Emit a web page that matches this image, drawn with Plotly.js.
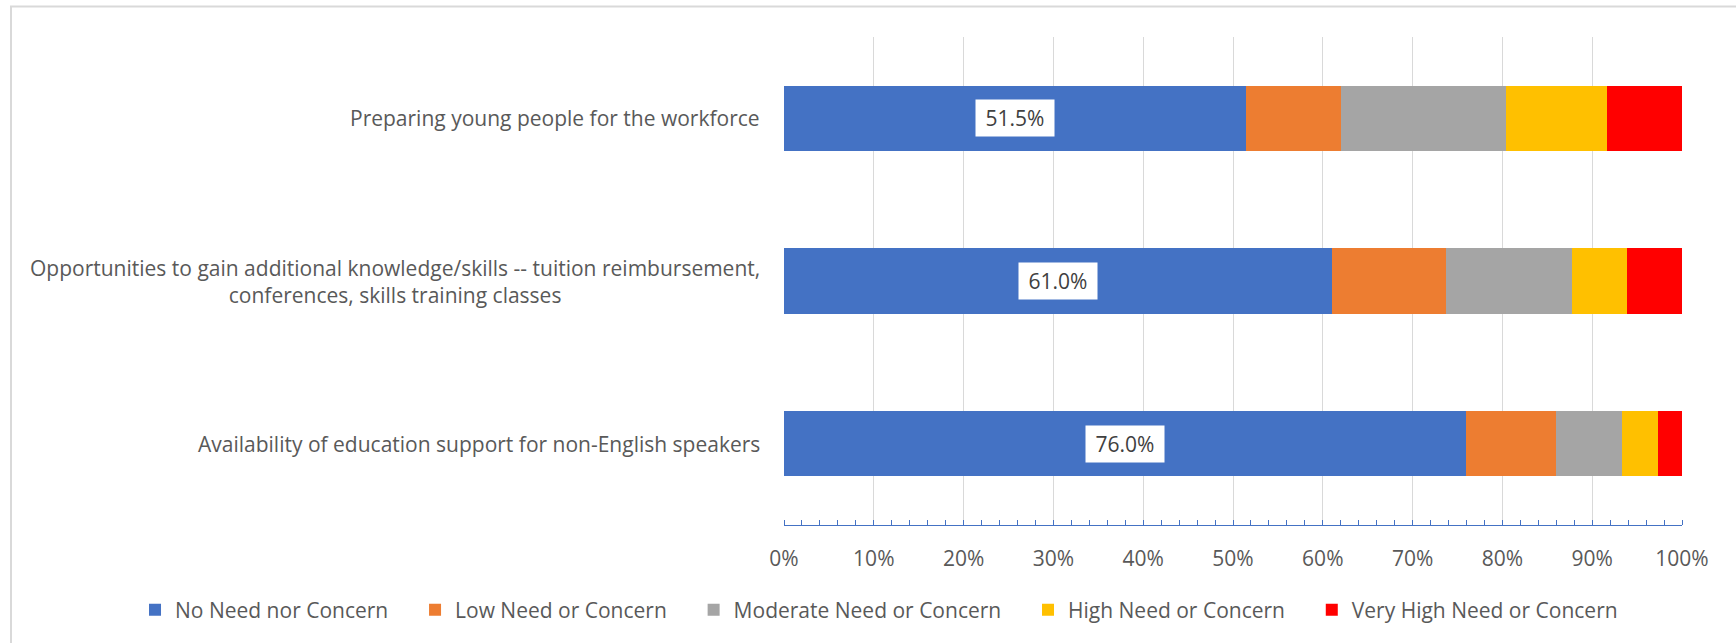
<!DOCTYPE html>
<html><head><meta charset="utf-8">
<script src="https://cdn.plot.ly/plotly-3.0.1.min.js"></script>
<style>html,body{margin:0;padding:0;background:#fff;} #chart{width:1736px;height:643px;}</style>
</head><body><div id="chart"></div>
<script>
const categories = [
  "Preparing young people for the workforce",
  "Opportunities to gain additional knowledge/skills -- tuition reimbursement,<br>conferences, skills training classes",
  "Availability of education support for non-English speakers"
];
const seriesNames = ["No Need nor Concern", "Low Need or Concern", "Moderate Need or Concern", "High Need or Concern", "Very High Need or Concern"];
const noNeed = [51.5, 61.0, 76.0];
const lowNeed = [10.5, 12.7, 10.0];
const moderateNeed = [18.4, 14.0, 7.3];
const highNeed = [11.3, 6.2, 4.0];
const veryHighNeed = [8.3, 6.1, 2.7];
const xTickValues = [0, 10, 20, 30, 40, 50, 60, 70, 80, 90, 100];
const xTickLabels = ["0%", "10%", "20%", "30%", "40%", "50%", "60%", "70%", "80%", "90%", "100%"];
const seriesColors = ["#4472C4", "#ED7D31", "#A5A5A5", "#FFC000", "#FF0000"];

const FONT = "Open Sans, sans-serif";
const TXT = "#595959";
const allSeries = [noNeed, lowNeed, moderateNeed, highNeed, veryHighNeed];
// extra invisible spacing after legend entries (wider item gap as in the original)
const legendPad = "\u00a0\u00a0\u00a0\u00a0";

const traces = allSeries.map((vals, i) => ({
  type: "bar",
  orientation: "h",
  name: seriesNames[i] + (i < allSeries.length - 1 ? legendPad : ""),
  x: vals,
  y: categories,
  marker: {color: seriesColors[i], line: {width: 0}},
  hoverinfo: "x"
}));

const annotations = [];
categories.forEach((c, i) => {
  annotations.push({
    x: 0, xref: "paper", y: c, yref: "y",
    xanchor: "right", yanchor: "middle", xshift: -22,
    text: c, showarrow: false, align: "center",
    font: {family: FONT, size: 21, color: TXT}
  });
  annotations.push({
    x: noNeed[i] / 2, xref: "x", y: c, yref: "y",
    text: noNeed[i].toFixed(1) + "%", showarrow: false,
    bgcolor: "#FFFFFF", borderpad: 1, width: 76, height: 34,
    align: "center", valign: "middle",
    font: {family: FONT, size: 21, color: "#404040"}
  });
});

const layout = {
  width: 1736, height: 643,
  margin: {l: 784, r: 54, t: 37, b: 118, autoexpand: false},
  paper_bgcolor: "#FFFFFF", plot_bgcolor: "#FFFFFF",
  barmode: "stack",
  bargap: 0.6,
  showlegend: true,
  font: {family: FONT, size: 21, color: TXT},
  xaxis: {
    range: [0, 100],
    tickvals: xTickValues, ticktext: xTickLabels,
    showgrid: true, gridcolor: "#D9D9D9", gridwidth: 1,
    zeroline: false,
    showline: true, linecolor: "#4472C4", linewidth: 1.3,
    ticks: "", ticklabelstandoff: 14,
    tickfont: {family: FONT, size: 21, color: TXT},
    minor: {dtick: 2, ticks: "inside", ticklen: 5, tickcolor: "#4472C4", tickwidth: 1, showgrid: false},
    fixedrange: true
  },
  yaxis: {
    type: "category",
    categoryorder: "array", categoryarray: categories,
    autorange: "reversed",
    showticklabels: false, showgrid: false, zeroline: false, showline: false, ticks: "",
    fixedrange: true
  },
  legend: {
    orientation: "h",
    xref: "paper", x: -0.7227, xanchor: "left",
    yref: "paper", y: -0.1742, yanchor: "middle",
    font: {family: FONT, size: 21, color: TXT},
    traceorder: "normal"
  },
  annotations: annotations,
  shapes: [{
    type: "rect", xref: "paper", yref: "paper",
    x0: -0.8608, x1: 1.2, y0: -0.4, y1: 1.0624,
    line: {color: "#D9D9D9", width: 2}, fillcolor: "rgba(0,0,0,0)", layer: "above"
  }]
};

Plotly.newPlot("chart", traces, layout, {displayModeBar: false, staticPlot: true});
</script>
</body></html>
